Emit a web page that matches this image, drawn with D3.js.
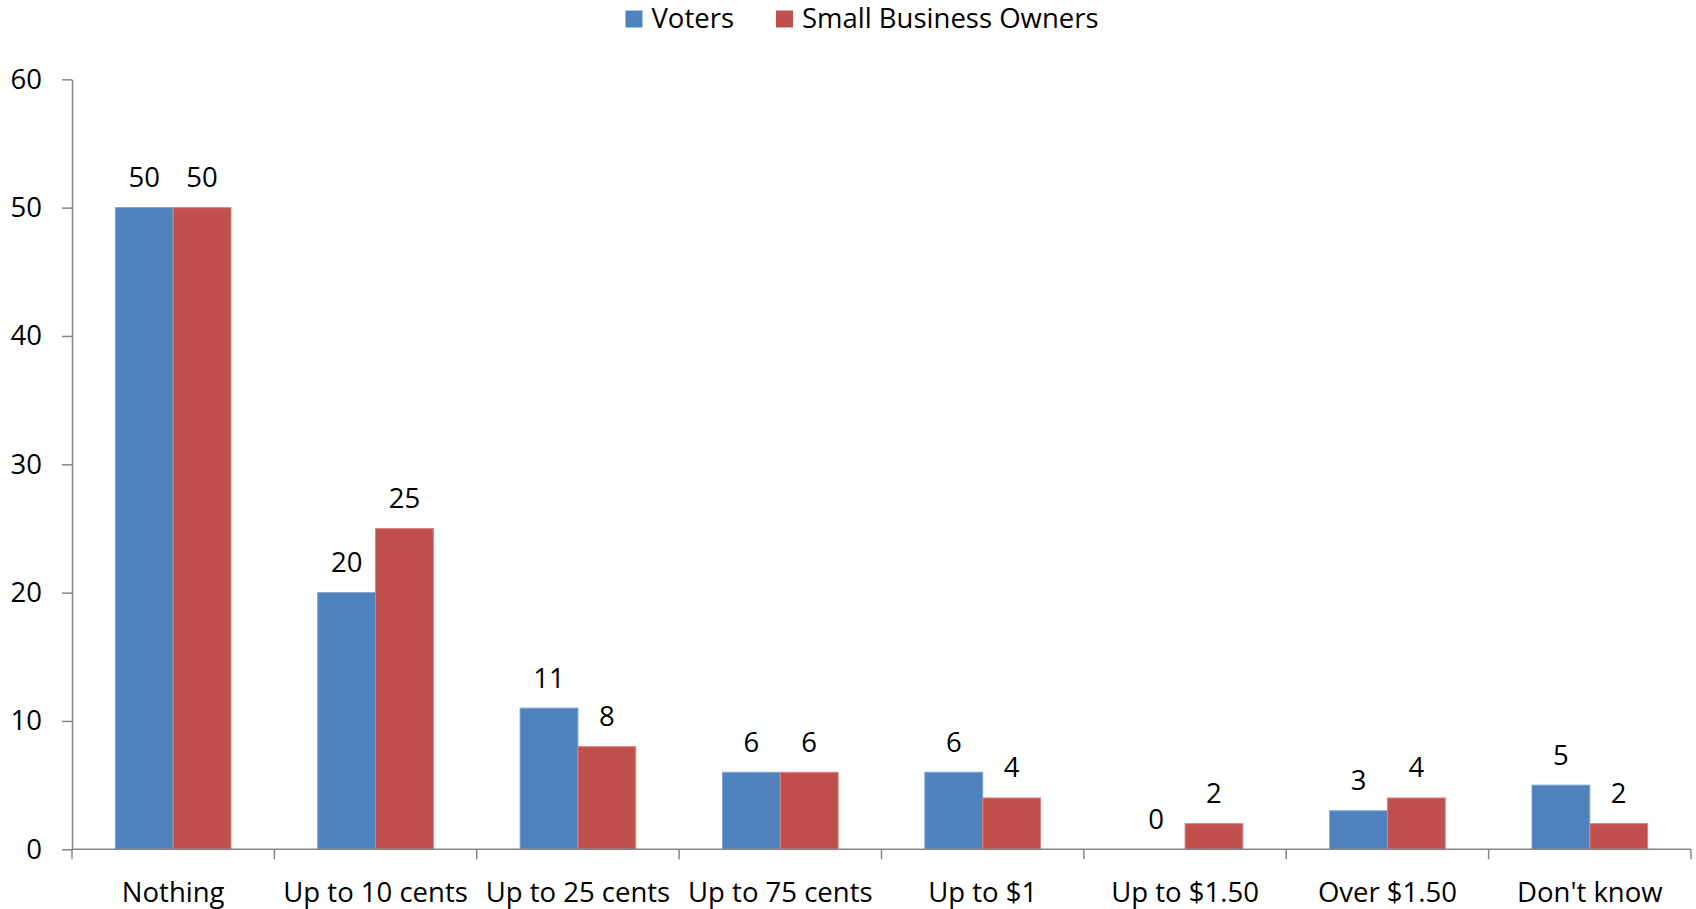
<!DOCTYPE html>
<html>
<head>
<meta charset="utf-8">
<script src="https://cdn.jsdelivr.net/npm/d3@7"></script>
<style>
  html, body { margin: 0; padding: 0; background: #fff; }
  svg { display: block; }
  text { font-family: "Open Sans", "Noto Sans", sans-serif; fill: #000; }
</style>
</head>
<body>
<svg id="chart" width="1696" height="909"></svg>
<script>
// Survey answers by group
const categories = ["Nothing", "Up to 10 cents", "Up to 25 cents", "Up to 75 cents",
                    "Up to $1", "Up to $1.50", "Over $1.50", "Don't know"];
const seriesNames = ["Voters", "Small Business Owners"];
const voters = [50, 20, 11, 6, 6, 0, 3, 5];
const smallBusinessOwners = [50, 25, 8, 6, 4, 2, 4, 2];
const yTicks = [0, 10, 20, 30, 40, 50, 60];

const colors = ["#4F81BD", "#C0504D"];
const strokes = ["#7FA2D0", "#D88481"];
const seriesValues = [voters, smallBusinessOwners];

const svg = d3.select("#chart");
const fontSize = 27.5;

const plot = { left: 72, right: 1691, top: 79.3, bottom: 849.3 };

const y = d3.scaleLinear().domain([0, 60]).range([plot.bottom, plot.top]);

// Category bands with Excel-like 150% gap between groups
const x0 = d3.scaleBand()
  .domain(categories)
  .range([plot.left, plot.right])
  .paddingInner(1.5 / 3.5)
  .paddingOuter(0.75 / 3.5);

const x1 = d3.scaleBand()
  .domain(seriesNames)
  .range([0, x0.bandwidth()])
  .padding(0);

const axisColor = "#868686";

// Y axis
const yAxis = svg.append("g")
  .attr("transform", `translate(${plot.left},0)`)
  .call(d3.axisLeft(y).tickValues(yTicks).tickSize(10).tickPadding(20).tickSizeOuter(0));
yAxis.select(".domain").attr("stroke", axisColor).attr("stroke-width", 1.5);
yAxis.selectAll(".tick line").attr("stroke", axisColor).attr("stroke-width", 1.5);
yAxis.selectAll(".tick text")
  .attr("font-size", fontSize)
  .attr("font-family", '"Open Sans", "Noto Sans", sans-serif')
  .attr("fill", "#000");

// Bars
const groups = svg.append("g").selectAll("g")
  .data(categories)
  .join("g")
  .attr("transform", c => `translate(${x0(c)},0)`);

groups.selectAll("rect")
  .data((c, i) => seriesNames.map((s, k) => ({ s, k, v: seriesValues[k][i] })))
  .join("rect")
  .attr("x", d => x1(d.s))
  .attr("y", d => y(d.v))
  .attr("width", x1.bandwidth())
  .attr("height", d => y(0) - y(d.v))
  .attr("fill", d => colors[d.k])
  .attr("stroke", d => d.v > 0 ? strokes[d.k] : "none")
  .attr("stroke-width", 1);

// Value labels
groups.selectAll("text.value")
  .data((c, i) => seriesNames.map((s, k) => ({ s, k, v: seriesValues[k][i] })))
  .join("text")
  .attr("class", "value")
  .attr("x", d => x1(d.s) + x1.bandwidth() / 2)
  .attr("y", d => y(d.v) - 20.5)
  .attr("text-anchor", "middle")
  .attr("font-size", fontSize)
  .text(d => d.v);

// X axis line and category boundary ticks
const xAxis = svg.append("g");
xAxis.append("line")
  .attr("x1", plot.left).attr("x2", plot.right)
  .attr("y1", y(0)).attr("y2", y(0))
  .attr("stroke", axisColor).attr("stroke-width", 1.5);

const boundaries = categories.map(c => x0(c) - x0.step() * x0.paddingInner() / 2).concat([plot.right]);
xAxis.selectAll("line.tick")
  .data(boundaries)
  .join("line")
  .attr("class", "tick")
  .attr("x1", d => d).attr("x2", d => d)
  .attr("y1", y(0)).attr("y2", y(0) + 10)
  .attr("stroke", axisColor).attr("stroke-width", 1.5);

xAxis.selectAll("text")
  .data(categories)
  .join("text")
  .attr("x", c => x0(c) + x0.bandwidth() / 2)
  .attr("y", 901.5)
  .attr("text-anchor", "middle")
  .attr("font-size", fontSize)
  .text(c => c);

// Legend
const legend = svg.append("g");
const items = legend.selectAll("g")
  .data(seriesNames)
  .join("g");
items.append("rect")
  .attr("width", 17).attr("height", 17)
  .attr("y", 10.5)
  .attr("fill", (d, i) => colors[i]);
items.append("text")
  .attr("x", 26)
  .attr("y", 28.3)
  .attr("font-size", fontSize)
  .text(d => d);

const widths = [];
items.each(function () {
  widths.push(26 + d3.select(this).select("text").node().getComputedTextLength());
});
const gap = 42;
const total = d3.sum(widths) + gap * (widths.length - 1);
let cursor = 862 - total / 2;
items.attr("transform", (d, i) => {
  const t = `translate(${cursor},0)`;
  cursor += widths[i] + gap;
  return t;
});
</script>
</body>
</html>
